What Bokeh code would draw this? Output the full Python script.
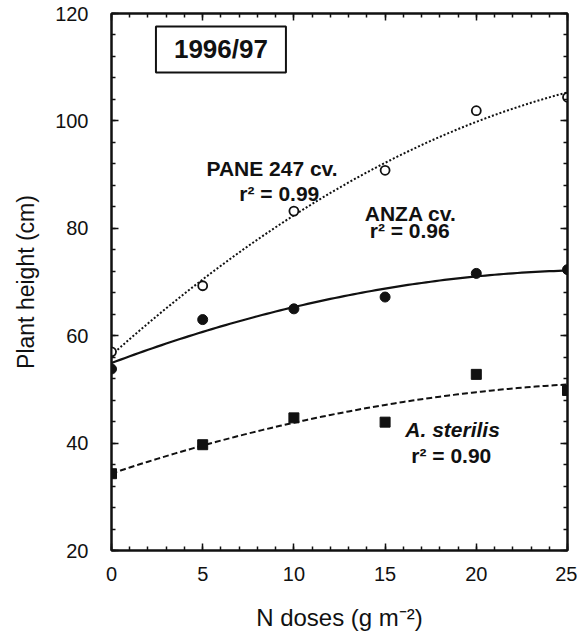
import numpy as np
from bokeh.plotting import figure
from bokeh.models import Range1d, LinearAxis, FixedTicker, Label
from bokeh.embed import file_html
from bokeh.resources import INLINE

# ---- data ----
n_doses = [0, 5, 10, 15, 20, 25]
pane_247 = [57.0, 69.3, 83.2, 90.8, 101.9, 104.4]
anza = [53.8, 63.0, 65.0, 67.2, 71.6, 72.3]
a_sterilis = [34.3, 39.7, 44.7, 43.9, 52.8, 49.8]
x_ticks = [0, 5, 10, 15, 20, 25]
y_ticks = [20, 40, 60, 80, 100, 120]
x_minor = list(range(0, 26, 1))
y_minor = list(range(20, 121, 4))

FONT = "Liberation Sans"
INK = "#111111"

p = figure(width=577, height=637, x_range=Range1d(0, 25), y_range=Range1d(20, 120),
           output_backend="svg", toolbar_location=None,
           min_border_left=111, min_border_right=10, min_border_top=13, min_border_bottom=87)
p.grid.visible = False
p.outline_line_color = INK
p.outline_line_width = 2
p.background_fill_color = "white"
p.border_fill_color = "white"


def style_axis(ax, ticks, minor, show_labels=True):
    ax.ticker = FixedTicker(ticks=ticks, minor_ticks=minor)
    ax.axis_line_color = INK
    ax.axis_line_width = 2
    ax.major_tick_line_color = INK
    ax.major_tick_line_width = 1.5
    ax.minor_tick_line_color = INK
    ax.minor_tick_line_width = 1.5
    ax.major_tick_in = 7
    ax.major_tick_out = 0
    ax.minor_tick_in = 4
    ax.minor_tick_out = 0
    ax.major_label_text_font = FONT
    if show_labels:
        ax.major_label_text_color = INK
        ax.major_label_text_font_size = "20px"
    else:
        ax.major_label_text_color = None
        ax.major_label_text_font_size = "1px"
        ax.major_label_standoff = 0


xax = p.xaxis[0]
yax = p.yaxis[0]
style_axis(xax, x_ticks, x_minor)
style_axis(yax, y_ticks, y_minor)
xax.major_label_standoff = 16
yax.major_label_standoff = 23
xax.axis_label = "N doses (g m\u207b\u00b2)"
yax.axis_label = "Plant height (cm)"
for ax in (xax, yax):
    ax.axis_label_text_font = FONT
    ax.axis_label_text_font_style = "normal"
    ax.axis_label_text_color = INK
xax.axis_label_text_font_size = "24px"
yax.axis_label_text_font_size = "23px"
xax.axis_label_standoff = 20
yax.axis_label_standoff = 13

top_ax = LinearAxis()
right_ax = LinearAxis()
style_axis(top_ax, x_ticks, x_minor, show_labels=False)
style_axis(right_ax, y_ticks, y_minor, show_labels=False)
p.add_layout(top_ax, "above")
p.add_layout(right_ax, "right")

# ---- fitted quadratic curves (regression of the plotted data) ----
xs_fit = np.linspace(0, 25, 101)
fit_pane = np.polyval(np.polyfit(n_doses, pane_247, 2), xs_fit)
fit_anza = np.polyval(np.polyfit(n_doses, anza, 2), xs_fit)
fit_ster = np.polyval(np.polyfit(n_doses, a_sterilis, 2), xs_fit)

p.line(xs_fit, fit_pane, line_color=INK, line_width=2, line_dash="2 2")
p.line(xs_fit, fit_anza, line_color=INK, line_width=2.2)
p.line(xs_fit, fit_ster, line_color=INK, line_width=2, line_dash="6 3")

p.scatter(n_doses, pane_247, marker="circle", size=9, fill_color="white",
          line_color=INK, line_width=1.8)
p.scatter(n_doses, anza, marker="circle", size=10, fill_color=INK, line_color=INK)
p.scatter(n_doses, a_sterilis, marker="square", size=10, fill_color=INK, line_color=INK)


def add_label(x, y, text, size="21px", style="bold"):
    p.add_layout(Label(x=x, y=y, text=text, text_font=FONT, text_font_size=size,
                       text_font_style=style, text_color=INK, text_align="center",
                       text_baseline="alphabetic"))


add_label(8.8, 91.1, "PANE 247 cv.")
add_label(9.2, 86.4, "r\u00b2 = 0.99")
add_label(16.4, 82.7, "ANZA cv.")
add_label(16.35, 79.6, "r\u00b2 = 0.96")
add_label(18.7, 42.5, "A. sterilis", style="bold italic")
add_label(18.63, 37.7, "r\u00b2 = 0.90")

p.add_layout(Label(x=6.0, y=113.3, text="1996/97", text_font=FONT, text_font_size="26px",
                   text_font_style="bold", text_color=INK, text_align="center",
                   text_baseline="middle", border_line_color=INK, border_line_width=2,
                   background_fill_color="white", padding=(18, 8)))

open("out.html", "w").write(file_html(p, INLINE))
